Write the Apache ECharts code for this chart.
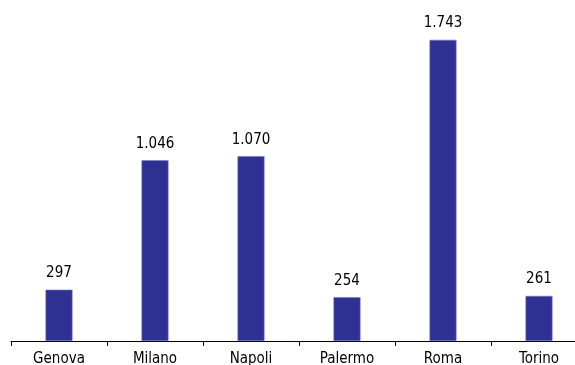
<!DOCTYPE html>
<html>
<head>
<meta charset="utf-8">
<script src="https://cdn.jsdelivr.net/npm/echarts@6/dist/echarts.min.js"></script>
<style>html,body{margin:0;padding:0;background:#fff}#c{width:575px;height:365px}</style>
</head>
<body>
<div id="c"></div>
<script>
const categories = ['Genova', 'Milano', 'Napoli', 'Palermo', 'Roma', 'Torino'];
const values = [297, 1046, 1070, 254, 1743, 261];

function fmt(v) {
  return String(v).replace(/\B(?=(\d{3})+(?!\d))/g, '.');
}

const FONT = '"DejaVu Sans Condensed", "DejaVu Sans", sans-serif';
const chart = echarts.init(document.getElementById('c'), null, {renderer: 'canvas'});
chart.setOption({
  animation: false,
  textStyle: {fontFamily: FONT},
  grid: {left: 11, width: 576, top: 30, bottom: 24, containLabel: false, outerBoundsMode: 'none'},
  xAxis: {
    type: 'category',
    data: categories,
    offset: 2,
    axisLine: {lineStyle: {color: '#000', width: 1}},
    axisTick: {show: true, length: 5, lineStyle: {color: '#000'}},
    axisLabel: {color: '#000', fontSize: 15, margin: 9, fontFamily: FONT}
  },
  yAxis: {
    type: 'value',
    min: 0,
    max: 1800,
    show: false,
    splitLine: {show: false}
  },
  series: [{
    type: 'bar',
    data: values,
    barWidth: 27,
    itemStyle: {color: '#2e3192', borderColor: '#7b7dbd', borderWidth: 0.6},
    label: {
      show: true,
      position: 'top',
      distance: 9,
      color: '#000',
      fontSize: 15,
      fontFamily: FONT,
      formatter: p => fmt(p.value)
    }
  }]
});
</script>
</body>
</html>
